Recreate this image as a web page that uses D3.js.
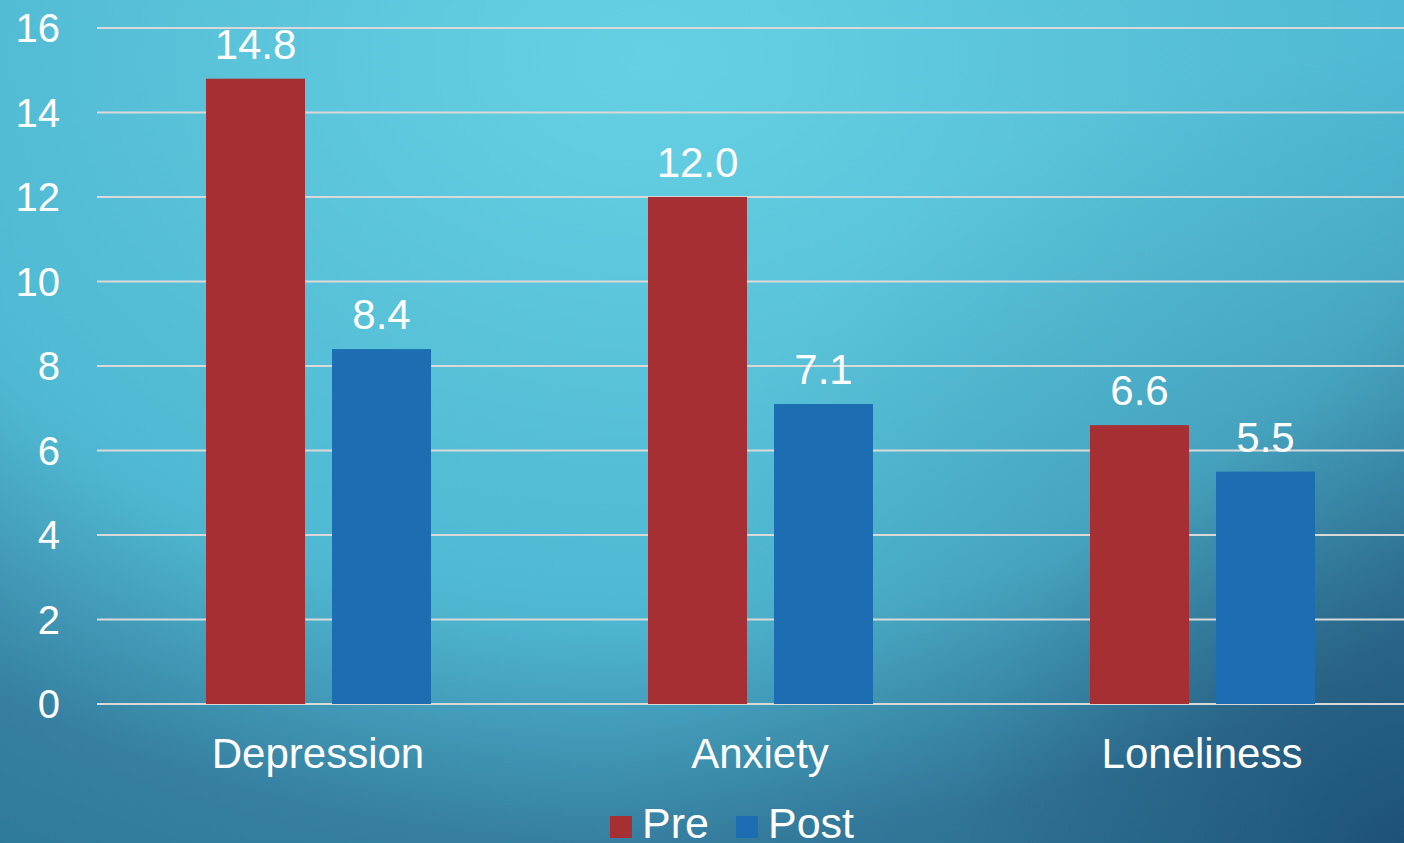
<!DOCTYPE html>
<html>
<head>
<meta charset="utf-8">
<script src="https://cdn.jsdelivr.net/npm/d3@7"></script>
<style>
  html, body { margin: 0; padding: 0; overflow: hidden; }
  text { font-family: "Liberation Sans", Arial, sans-serif; fill: #fff; }
</style>
</head>
<body>
<svg id="chart" width="1404" height="843"></svg>
<script>
// chart data
let categories = ["Depression", "Anxiety", "Loneliness"];
let series = ["Pre", "Post"];
let preValues = [14.8, 12.0, 6.6];
let postValues = [8.4, 7.1, 5.5];
let yTicks = [0, 2, 4, 6, 8, 10, 12, 14, 16];
let colors = ["#a52f33", "#1c6db1"];

let svg = d3.select("#chart");
let width = +svg.attr("width");
let height = +svg.attr("height");

// background: light cyan glow at top, darker toward the bottom right
let defs = svg.append("defs");
let grad = defs.append("radialGradient")
  .attr("id", "bg")
  .attr("gradientUnits", "userSpaceOnUse")
  .attr("cx", 0).attr("cy", 0).attr("r", 1)
  .attr("gradientTransform", "translate(650,60) scale(1400,980)");
[
  [0, "#66d0e3"],
  [0.54, "#50b9d3"],
  [0.58, "#4eb5cf"],
  [0.8, "#367fa0"],
  [0.92, "#2f7b9c"],
  [1, "#2a6f92"]
].forEach(function (s) {
  grad.append("stop").attr("offset", s[0]).attr("stop-color", s[1]);
});

let shade = defs.append("radialGradient")
  .attr("id", "shade")
  .attr("gradientUnits", "userSpaceOnUse")
  .attr("cx", width).attr("cy", height).attr("r", 800);
shade.append("stop").attr("offset", "0%").attr("stop-color", "#12345a").attr("stop-opacity", 0.55);
shade.append("stop").attr("offset", "55%").attr("stop-color", "#12345a").attr("stop-opacity", 0.15);
shade.append("stop").attr("offset", "100%").attr("stop-color", "#12345a").attr("stop-opacity", 0);

svg.append("rect").attr("width", width).attr("height", height).attr("fill", "url(#bg)");
svg.append("rect").attr("width", width).attr("height", height).attr("fill", "url(#shade)");

let y = d3.scaleLinear().domain([0, 16]).range([704, 28]);
let x = d3.scaleBand().domain(categories).range([97, 97 + 3 * 442]);
let xSub = d3.scaleBand().domain(series).range([109, 334]).paddingInner(27 / 126);

// gridlines
svg.append("g")
  .selectAll("line")
  .data(yTicks)
  .enter()
  .append("line")
  .attr("x1", 97)
  .attr("x2", width)
  .attr("y1", (d) => y(d))
  .attr("y2", (d) => y(d))
  .attr("stroke", "#d9d9d9")
  .attr("stroke-width", 2);

// y tick labels
svg.append("g")
  .selectAll("text")
  .data(yTicks)
  .enter()
  .append("text")
  .attr("x", 60)
  .attr("y", (d) => y(d))
  .attr("dy", "0.35em")
  .attr("text-anchor", "end")
  .style("font-size", "40px")
  .text((d) => d);

// bars
let rows = categories.map((c, i) => ({ cat: c, values: [preValues[i], postValues[i]] }));

let groups = svg.append("g")
  .selectAll("g")
  .data(rows)
  .enter()
  .append("g")
  .attr("transform", (d) => "translate(" + x(d.cat) + ",0)");

groups.selectAll("rect")
  .data((d) => d.values.map((v, j) => ({ s: series[j], v: v })))
  .enter()
  .append("rect")
  .attr("x", (d) => xSub(d.s))
  .attr("width", xSub.bandwidth())
  .attr("y", (d) => y(d.v))
  .attr("height", (d) => y(0) - y(d.v))
  .attr("fill", (d, j) => colors[j]);

groups.selectAll("text")
  .data((d) => d.values.map((v, j) => ({ s: series[j], v: v })))
  .enter()
  .append("text")
  .attr("x", (d) => xSub(d.s) + xSub.bandwidth() / 2)
  .attr("y", (d) => y(d.v) - 20)
  .attr("text-anchor", "middle")
  .style("font-size", "42px")
  .text((d) => d.v.toFixed(1));

// category labels
svg.append("g")
  .selectAll("text")
  .data(categories)
  .enter()
  .append("text")
  .attr("x", (d) => x(d) + x.bandwidth() / 2)
  .attr("y", 768)
  .attr("text-anchor", "middle")
  .style("font-size", "42px")
  .text((d) => d);

// legend
let legend = svg.append("g").attr("transform", "translate(610,816)");
let legendX = [0, 126];
series.forEach(function (s, i) {
  legend.append("rect")
    .attr("x", legendX[i])
    .attr("y", 0)
    .attr("width", 22)
    .attr("height", 22)
    .attr("fill", colors[i]);
  legend.append("text")
    .attr("x", legendX[i] + 32)
    .attr("y", 22)
    .style("font-size", "43px")
    .text(s);
});
</script>
</body>
</html>
